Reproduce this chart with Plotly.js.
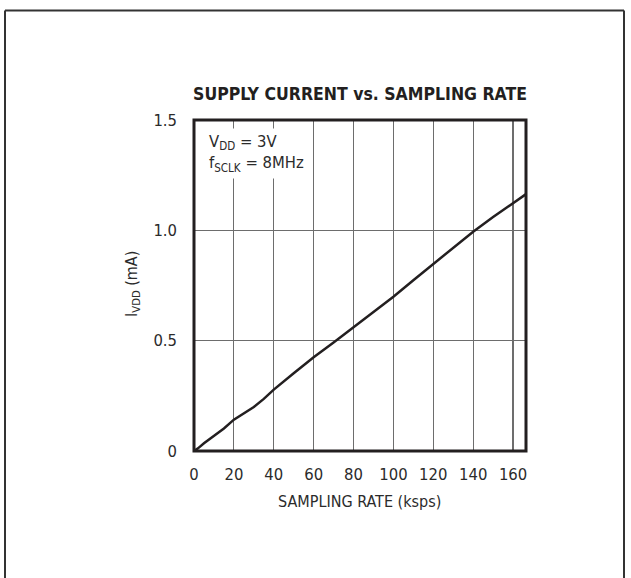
<!DOCTYPE html>
<html>
<head>
<meta charset="utf-8">
<script src="https://cdn.plot.ly/plotly-3.0.1.min.js"></script>
<style>html,body{margin:0;padding:0;background:#fff;}#chart{width:631px;height:578px;}</style>
</head>
<body>
<div id="chart"></div>
<script>
// Data
const samplingRate = [0, 2, 5, 10, 15, 20, 25, 30, 35, 40, 50, 60, 70, 80, 90, 100, 110, 120, 130, 140, 150, 160, 166.5];
const supplyCurrent = [0, 0.012, 0.035, 0.068, 0.102, 0.142, 0.172, 0.199, 0.236, 0.278, 0.352, 0.425, 0.492, 0.56, 0.628, 0.699, 0.774, 0.848, 0.922, 0.994, 1.06, 1.122, 1.164];
const xTicks = [0, 20, 40, 60, 80, 100, 120, 140, 160];
const xTickLabels = ["0", "20", "40", "60", "80", "100", "120", "140", "160"];
const yTicks = [0, 0.5, 1.0, 1.5];
const yTickLabels = ["0", "0.5", "1.0", "1.5"];

const FONT = '"DejaVu Sans Condensed", "Liberation Sans Narrow", sans-serif';
const INK = '#231f20';
const TXT = '#2b2b2b';

const trace = {
  x: samplingRate, y: supplyCurrent, type: 'scatter', mode: 'lines',
  line: {color: INK, width: 2.5},
  hoverinfo: 'skip', showlegend: false
};

const layout = {
  width: 631, height: 578,
  margin: {l: 194, r: 105, t: 120, b: 127},
  paper_bgcolor: '#fff', plot_bgcolor: '#fff',
  font: {family: FONT, color: TXT, size: 16},
  title: {
    text: 'SUPPLY CURRENT vs. SAMPLING RATE',
    font: {family: FONT, size: 17.5, color: INK, weight: 'bold'},
    xref: 'paper', x: 0.5, xanchor: 'center',
    yref: 'container', y: 1 - 93.5/578, yanchor: 'middle'
  },
  xaxis: {
    range: [0, 166.5], tickvals: xTicks, ticktext: xTickLabels,
    showgrid: true, gridcolor: '#6d6d6d', gridwidth: 1.2,
    zeroline: false, showline: false, ticks: '', ticklabelstandoff: 11,
    tickfont: {family: FONT, size: 16.5, color: TXT}, fixedrange: true
  },
  yaxis: {
    range: [0, 1.5], tickvals: yTicks, ticktext: yTickLabels,
    showgrid: true, gridcolor: '#6d6d6d', gridwidth: 1.2,
    zeroline: false, showline: false, ticks: '', ticklabelstandoff: 16,
    tickfont: {family: FONT, size: 16.5, color: TXT}, fixedrange: true
  },
  shapes: [
    {type: 'rect', xref: 'paper', yref: 'paper', x0: 0, x1: 1, y0: 0, y1: 1,
     line: {color: INK, width: 3}, layer: 'above'},
    {type: 'line', xref: 'paper', yref: 'paper', x0: (5-194)/332, x1: (5-194)/332, y0: (451-10.5)/331, y1: (451-590)/331,
     line: {color: '#333', width: 2}},
    {type: 'line', xref: 'paper', yref: 'paper', x0: (5-194)/332, x1: (624-194)/332, y0: (451-10.5)/331, y1: (451-10.5)/331,
     line: {color: '#333', width: 2}},
    {type: 'line', xref: 'paper', yref: 'paper', x0: (624-194)/332, x1: (624-194)/332, y0: (451-10.5)/331, y1: (451-590)/331,
     line: {color: '#333', width: 2}}
  ],
  annotations: [
    {text: 'V<sub>DD</sub> = 3V<br>f<sub>SCLK</sub> = 8MHz', xref: 'paper', yref: 'paper',
     x: (205-194)/332, y: (451-128)/331, xanchor: 'left', yanchor: 'top', align: 'left',
     showarrow: false, bgcolor: '#fff', borderpad: 3,
     font: {family: FONT, size: 16.5, color: TXT}},
    {text: 'SAMPLING RATE (ksps)', xref: 'paper', yref: 'paper',
     x: (359-194)/332, y: (451-501.7)/331, xanchor: 'center', yanchor: 'middle',
     showarrow: false, font: {family: FONT, size: 16, color: TXT}},
    {text: 'I<sub>VDD</sub> (mA)', xref: 'paper', yref: 'paper', textangle: -90,
     x: (132-194)/332, y: (451-284)/331, xanchor: 'center', yanchor: 'middle',
     showarrow: false, font: {family: FONT, size: 16, color: TXT}}
  ]
};

Plotly.newPlot('chart', [trace], layout, {displayModeBar: false, staticPlot: true});
</script>
</body>
</html>
